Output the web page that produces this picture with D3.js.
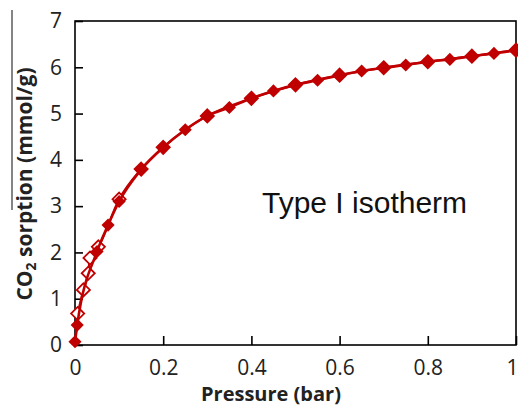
<!DOCTYPE html>
<html lang="en">
<head>
    <meta charset="UTF-8">
    <title>CO2 sorption isotherm</title>
    <script src="https://d3js.org/d3.v7.min.js"></script>
    <style>
        body {
            margin: 0;
            background: #fff;
        }
        svg {
            display: block;
        }
        .tick text {
            font-family: "Open Sans", sans-serif;
            font-size: 21px;
            fill: #222;
        }
    </style>
</head>
<body>

    <div id="container"></div>

    <script>
        // adsorption branch (filled diamonds)
        const adsP = [0, 0.005, 0.05, 0.075, 0.1, 0.15, 0.2, 0.25, 0.3, 0.35, 0.4, 0.45, 0.5,
                      0.55, 0.6, 0.65, 0.7, 0.75, 0.8, 0.85, 0.9, 0.95, 1.0];
        const adsQ = [0.07, 0.43, 2.02, 2.59, 3.1, 3.79, 4.27, 4.65, 4.95, 5.13, 5.33, 5.49, 5.62,
                      5.72, 5.83, 5.92, 5.99, 6.05, 6.12, 6.17, 6.24, 6.3, 6.37];

        // desorption branch (open diamonds)
        const desP = [1.0, 0.9, 0.8, 0.7, 0.6, 0.5, 0.4, 0.3, 0.2, 0.15, 0.1, 0.053, 0.034, 0.03, 0.019, 0.006];
        const desQ = [6.37, 6.24, 6.12, 5.99, 5.83, 5.62, 5.33, 4.95, 4.27, 3.8, 3.15, 2.12, 1.88, 1.55, 1.19, 0.68];

        const xTicks = [0, 0.2, 0.4, 0.6, 0.8, 1];
        const yTicks = [0, 1, 2, 3, 4, 5, 6, 7];

        const red = '#c00000';

        const svg = d3.select('#container').append('svg')
            .attr('width', 518)
            .attr('height', 407);

        const x = d3.scaleLinear().domain([0, 1]).range([75, 516]);
        const y = d3.scaleLinear().domain([0, 7]).range([345, 21]);

        // left edge line from the scan
        svg.append('line')
            .attr('x1', 12).attr('x2', 12)
            .attr('y1', 10).attr('y2', 210)
            .attr('stroke', '#333')
            .attr('stroke-width', 1.2);

        // axes with inside ticks
        const xAxis = svg.append('g')
            .attr('transform', 'translate(0,' + y(0) + ')')
            .call(d3.axisBottom(x)
                .tickValues(xTicks)
                .tickSizeInner(-9)
                .tickSizeOuter(0)
                .tickPadding(15)
                .tickFormat(d => String(+d.toFixed(1))));

        // last label sits on the right edge
        xAxis.selectAll('.tick text')
            .filter(d => d === 1)
            .attr('text-anchor', 'end')
            .attr('dx', 2);

        const yAxis = svg.append('g')
            .attr('transform', 'translate(' + x(0) + ',0)')
            .call(d3.axisLeft(y)
                .tickValues(yTicks)
                .tickSizeInner(-8)
                .tickSizeOuter(0)
                .tickPadding(13)
                .tickFormat(d3.format('d')));

        svg.selectAll('.domain').remove();
        svg.selectAll('.tick line').attr('stroke', '#000').attr('stroke-width', 1.6);

        // plot frame
        svg.append('rect')
            .attr('x', x(0))
            .attr('y', y(7))
            .attr('width', x(1) - x(0))
            .attr('height', y(0) - y(7))
            .attr('fill', 'none')
            .attr('stroke', '#000')
            .attr('stroke-width', 1.6);

        const ads = adsP.map((p, i) => [p, adsQ[i]]);
        const des = desP.map((p, i) => [p, desQ[i]]);

        const line = d3.line()
            .x(d => x(d[0]))
            .y(d => y(d[1]))
            .curve(d3.curveMonotoneX);

        const diamond = d3.symbol().type(d3.symbolDiamond2).size(110);

        // desorption (open)
        svg.append('path')
            .datum(des.slice().reverse())
            .attr('d', line)
            .attr('fill', 'none')
            .attr('stroke', red)
            .attr('stroke-width', 2.2);

        svg.selectAll('.des')
            .data(des)
            .enter()
            .append('path')
            .attr('class', 'des')
            .attr('transform', d => 'translate(' + x(d[0]) + ',' + y(d[1]) + ')')
            .attr('d', diamond)
            .attr('fill', '#fff')
            .attr('stroke', red)
            .attr('stroke-width', 1.8);

        // adsorption (filled)
        svg.append('path')
            .datum(ads)
            .attr('d', line)
            .attr('fill', 'none')
            .attr('stroke', red)
            .attr('stroke-width', 2.6);

        svg.selectAll('.ads')
            .data(ads)
            .enter()
            .append('path')
            .attr('class', 'ads')
            .attr('transform', d => 'translate(' + x(d[0]) + ',' + y(d[1]) + ')')
            .attr('d', diamond)
            .attr('fill', red);

        // axis titles
        svg.append('text')
            .attr('x', 271)
            .attr('y', 401)
            .attr('text-anchor', 'middle')
            .attr('font-family', '"Open Sans", sans-serif')
            .attr('font-weight', 'bold')
            .attr('font-size', 20)
            .attr('fill', '#222')
            .text('Pressure (bar)');

        const yTitle = svg.append('text')
            .attr('transform', 'translate(32,184) rotate(-90)')
            .attr('text-anchor', 'middle')
            .attr('font-family', '"Open Sans", sans-serif')
            .attr('font-weight', 'bold')
            .attr('font-size', 21)
            .attr('fill', '#222');
        yTitle.append('tspan').text('CO');
        yTitle.append('tspan').attr('font-size', 14).attr('dy', 4).text('2');
        yTitle.append('tspan').attr('dy', -4).text(' sorption (mmol/g)');

        // annotation
        svg.append('text')
            .attr('x', 262)
            .attr('y', 213)
            .attr('font-family', '"Liberation Sans", Arial, sans-serif')
            .attr('font-size', 30)
            .attr('fill', '#111')
            .text('Type I isotherm');
    </script>

</body>
</html>
